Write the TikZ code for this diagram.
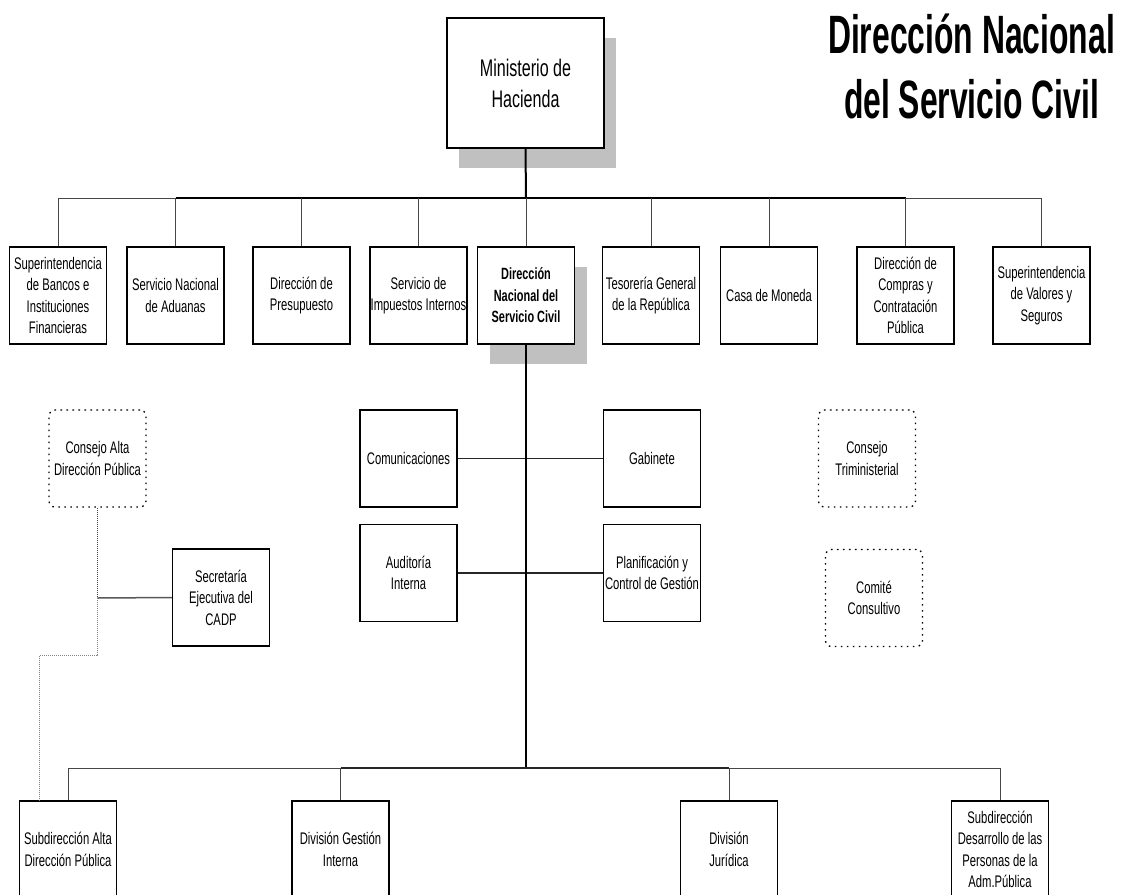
\documentclass[tikz,border=0pt]{standalone}
\usepackage{fontspec}
\setmainfont{Liberation Sans}
\newfontfamily\boxfont[FakeStretch=0.67]{Liberation Sans}
\newfontfamily\titlefont[FakeStretch=0.59]{Liberation Sans}
\usetikzlibrary{shadows}
\definecolor{shadowgray}{RGB}{192,192,192}
\definecolor{linegray}{RGB}{70,70,70}
\definecolor{dotgray}{RGB}{130,130,130}
\begin{document}
\begin{tikzpicture}[x=1pt,y=-1pt,
  unit/.style={draw=black, line width=1.4pt, fill=white, minimum width=97pt,
    minimum height=97pt, inner sep=0pt, align=center,
    font=\boxfont\fontsize{16.8}{21.5}\selectfont},
  dotbox/.style={draw=black, line width=1.3pt, dash pattern=on 1.6pt off 4.4pt,
    rounded corners=6pt, minimum width=97pt, minimum height=97pt, inner sep=0pt,
    align=center, font=\boxfont\fontsize{16.8}{21.5}\selectfont},
  shadowed/.style={drop shadow={shadow xshift=12pt, shadow yshift=-20pt,
    fill=shadowgray, opacity=1}},
  spine/.style={line width=2pt, black},
  thinline/.style={line width=1pt, linegray},
  midline/.style={line width=1.3pt, black!85},
  densedot/.style={line width=1pt, linegray, dash pattern=on 1pt off 1pt},
  lightdot/.style={line width=1pt, dotgray, dash pattern=on 1pt off 1pt},
  titletext/.style={font=\titlefont\bfseries\fontsize{54}{65}\selectfont, inner sep=0pt, anchor=base}
]
\useasboundingbox (0,0) rectangle (1124,894);
\clip (0,0) rectangle (1124,894);
\fill[white] (0,0) rectangle (1124,894);

% title
\node[titletext] (t1) at (971.5,53) {Dirección Nacional};
\node[titletext] (t2) at (971.5,118) {del Servicio Civil};

% top box
\node[unit, shadowed, minimum width=157pt, minimum height=130pt,
  font=\boxfont\fontsize{24}{31}\selectfont] (min) at (525.5,83) {Ministerio de\\Hacienda};

% first row
\node[unit] (r1) at (58,295.5) {Superintendencia\\de Bancos e\\Instituciones\\Financieras};
\node[unit] (r2) at (175.5,295.5) {Servicio Nacional\\de Aduanas};
\node[unit] (r3) at (301.5,295.5) {Dirección de\\Presupuesto};
\node[unit] (r4) at (418.5,295.5) {Servicio de\\Impuestos Internos};
\node[unit, shadowed, font=\boxfont\bfseries\fontsize{16.3}{21.5}\selectfont] (r5) at (526,295.5) {Dirección\\Nacional del\\Servicio Civil};
\node[unit] (r6) at (651,295.5) {Tesorería General\\de la República};
\node[unit] (r7) at (769,295.5) {Casa de Moneda};
\node[unit] (r8) at (905.5,295.5) {Dirección de\\Compras y\\Contratación\\Pública};
\node[unit] (r9) at (1041.5,295.5) {Superintendencia\\de Valores y\\Seguros};

\coordinate (bus) at (526,198);
\coordinate (bbus) at (526,768);

% top bus
\draw[spine] (min.south) -- (bus);
\draw[thinline] (r1.north |- bus) -- (r2.north |- bus);
\draw[spine] (r2.north |- bus) -- (r8.north |- bus);
\draw[thinline] (r8.north |- bus) -- (r9.north |- bus);
\foreach \n in {r1,r2,r3,r4,r6,r7,r8,r9}{
  \draw[thinline] (\n.north) -- (\n.north |- bus);
}
\draw[thinline] (r5.north) -- (r5.north |- bus);

% middle staff units
\node[unit] (com) at (408.5,458.5) {Comunicaciones};
\node[unit] (gab) at (652,458.5) {Gabinete};
\node[unit] (aud) at (408.5,573) {Auditoría\\Interna};
\node[unit] (plan) at (652,573) {Planificación y\\Control de Gestión};
\draw[midline] (com.east) -- (gab.west);
\draw[midline] (aud.east) -- (plan.west);

% spine down
\draw[spine] (r5.south) -- (bbus);

% advisory bodies
\node[dotbox] (cadp) at (97.5,458.5) {Consejo Alta\\Dirección Pública};
\node[unit] (sec) at (221,597.5) {Secretaría\\Ejecutiva del\\CADP};
\node[dotbox] (tri) at (867,458.5) {Consejo\\Triministerial};
\node[dotbox] (comite) at (874,598) {Comité\\Consultivo};

% bottom row
\node[unit] (b1) at (68,849.5) {Subdirección Alta\\Dirección Pública};
\node[unit] (b2) at (340.5,849.5) {División Gestión\\Interna};
\node[unit] (b3) at (729,849.5) {División\\Jurídica};
\node[unit] (b4) at (1000,849.5) {Subdirección\\Desarrollo de las\\Personas de la\\Adm.Pública};

\draw[thinline] (b1.north |- bbus) -- (b2.north |- bbus);
\draw[midline] (b2.north |- bbus) -- (b3.north |- bbus);
\draw[thinline] (b3.north |- bbus) -- (b4.north |- bbus);
\foreach \n in {b1,b2,b3,b4}{
  \draw[thinline] (\n.north) -- (\n.north |- bbus);
}

% CADP links
\coordinate (jn) at (97.5,598);
\coordinate (d1) at (97.5,655);
\coordinate (d2) at (39,655);
\draw[densedot] (cadp.south) -- (jn);
\draw[line width=1.5pt, black!65] (jn) -- (sec.west);
\draw[lightdot] (jn) -- (d1) -- (d2) -- (d2 |- b1.north);
\end{tikzpicture}
\end{document}
